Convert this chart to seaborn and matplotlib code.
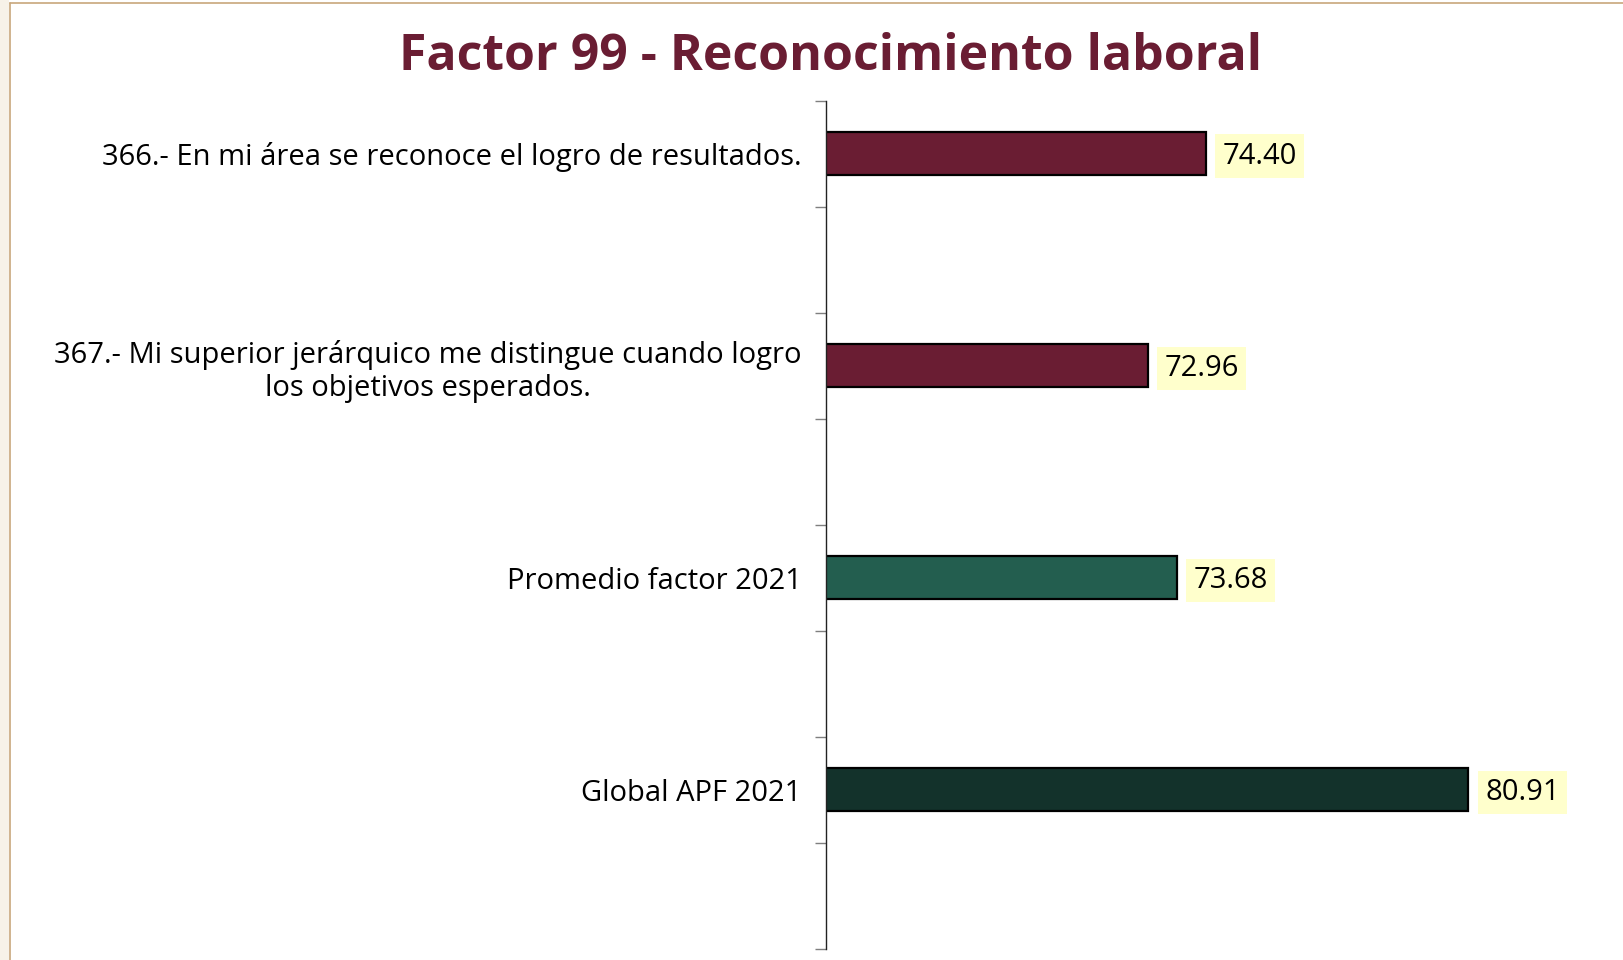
import matplotlib
matplotlib.use("Agg")
import matplotlib.pyplot as plt
import numpy as np
import seaborn as sns
from matplotlib.patches import Rectangle
from pandas import DataFrame

# chart data
questions = [
    "366.- En mi área se reconoce el logro de resultados.",
    "367.- Mi superior jerárquico me distingue cuando logro\nlos objetivos esperados.",
    "Promedio factor 2021",
    "Global APF 2021",
]
scores = [74.40, 72.96, 73.68, 80.91]
bar_colors = ["#6A1D33", "#6A1D33", "#235E4F", "#13322B"]
title = "Factor 99 - Reconocimiento laboral"

# the original chart leaves an empty slot below every bar
blanks = [" " * (i + 1) for i in range(len(questions))]
slots = []
for q, b in zip(questions, blanks):
    slots += [q, b]

sns.set_style("white")
plt.rcParams["font.family"] = ["Open Sans", "DejaVu Sans"]

df = DataFrame({"pregunta": questions, "valor": scores})

fig = plt.figure(figsize=(16.24, 9.6), dpi=100)
fig.patch.set_facecolor("white")

# slide decoration: beige strip at the left, tan frame line
fig.add_artist(Rectangle((0, 0), 9.5 / 1624, 1, transform=fig.transFigure,
                         facecolor="#F7F2E8", edgecolor="none"))
fig.add_artist(plt.Line2D([10 / 1624, 10 / 1624], [0, 1 - 3 / 960],
                          transform=fig.transFigure, color="#C8A77C", lw=1.2))
fig.add_artist(plt.Line2D([10 / 1624, 1], [1 - 3 / 960, 1 - 3 / 960],
                          transform=fig.transFigure, color="#C8A77C", lw=1.2))

ax = fig.add_axes([826.5 / 1624, 11.3 / 960, (1573 - 826.5) / 1624, (948.7 - 100.5) / 960])

sns.barplot(
    data=df,
    x="valor",
    y="pregunta",
    hue="pregunta",
    order=slots,
    hue_order=questions,
    palette=dict(zip(questions, bar_colors)),
    saturation=1,
    width=0.4,
    edgecolor="black",
    linewidth=1.6,
    legend=False,
    ax=ax,
)

ax.set_xlim(65, 83.5)
ax.set_ylim(len(slots) - 0.5, -0.5)

ax.set_yticks(np.arange(0, len(slots), 2), labels=questions, minor=False)
ax.set_yticks(np.arange(-0.5, len(slots), 1), minor=True)
ax.tick_params(axis="y", which="major", length=0, pad=18, labelsize=21,
               labelcolor="black")
ax.tick_params(axis="y", which="minor", left=True, length=8, width=1, color="#7F7F7F")
for lbl in ax.get_yticklabels():
    lbl.set_multialignment("center")

ax.set_xticks([])
ax.set_xlabel("")
ax.set_ylabel("")
for side in ["top", "right", "bottom"]:
    ax.spines[side].set_visible(False)
ax.spines["left"].set_color("#222222")
ax.spines["left"].set_linewidth(1)

for container in ax.containers:
    labels = ax.bar_label(
        container,
        fmt="%.2f",
        padding=12,
        fontsize=21,
        color="black",
        bbox=dict(boxstyle="square,pad=0.25", facecolor="#FFFFCC", edgecolor="none"),
    )
    # nudge the numbers a bit lower, as in the original
    for t in labels:
        t.xyann = (12, -2)

fig.text(831 / 1624, 1 - 57 / 960, title, ha="center", va="center",
         fontsize=36, fontweight="bold", color="#6A1D33")

fig.savefig("out.png", dpi=100)
